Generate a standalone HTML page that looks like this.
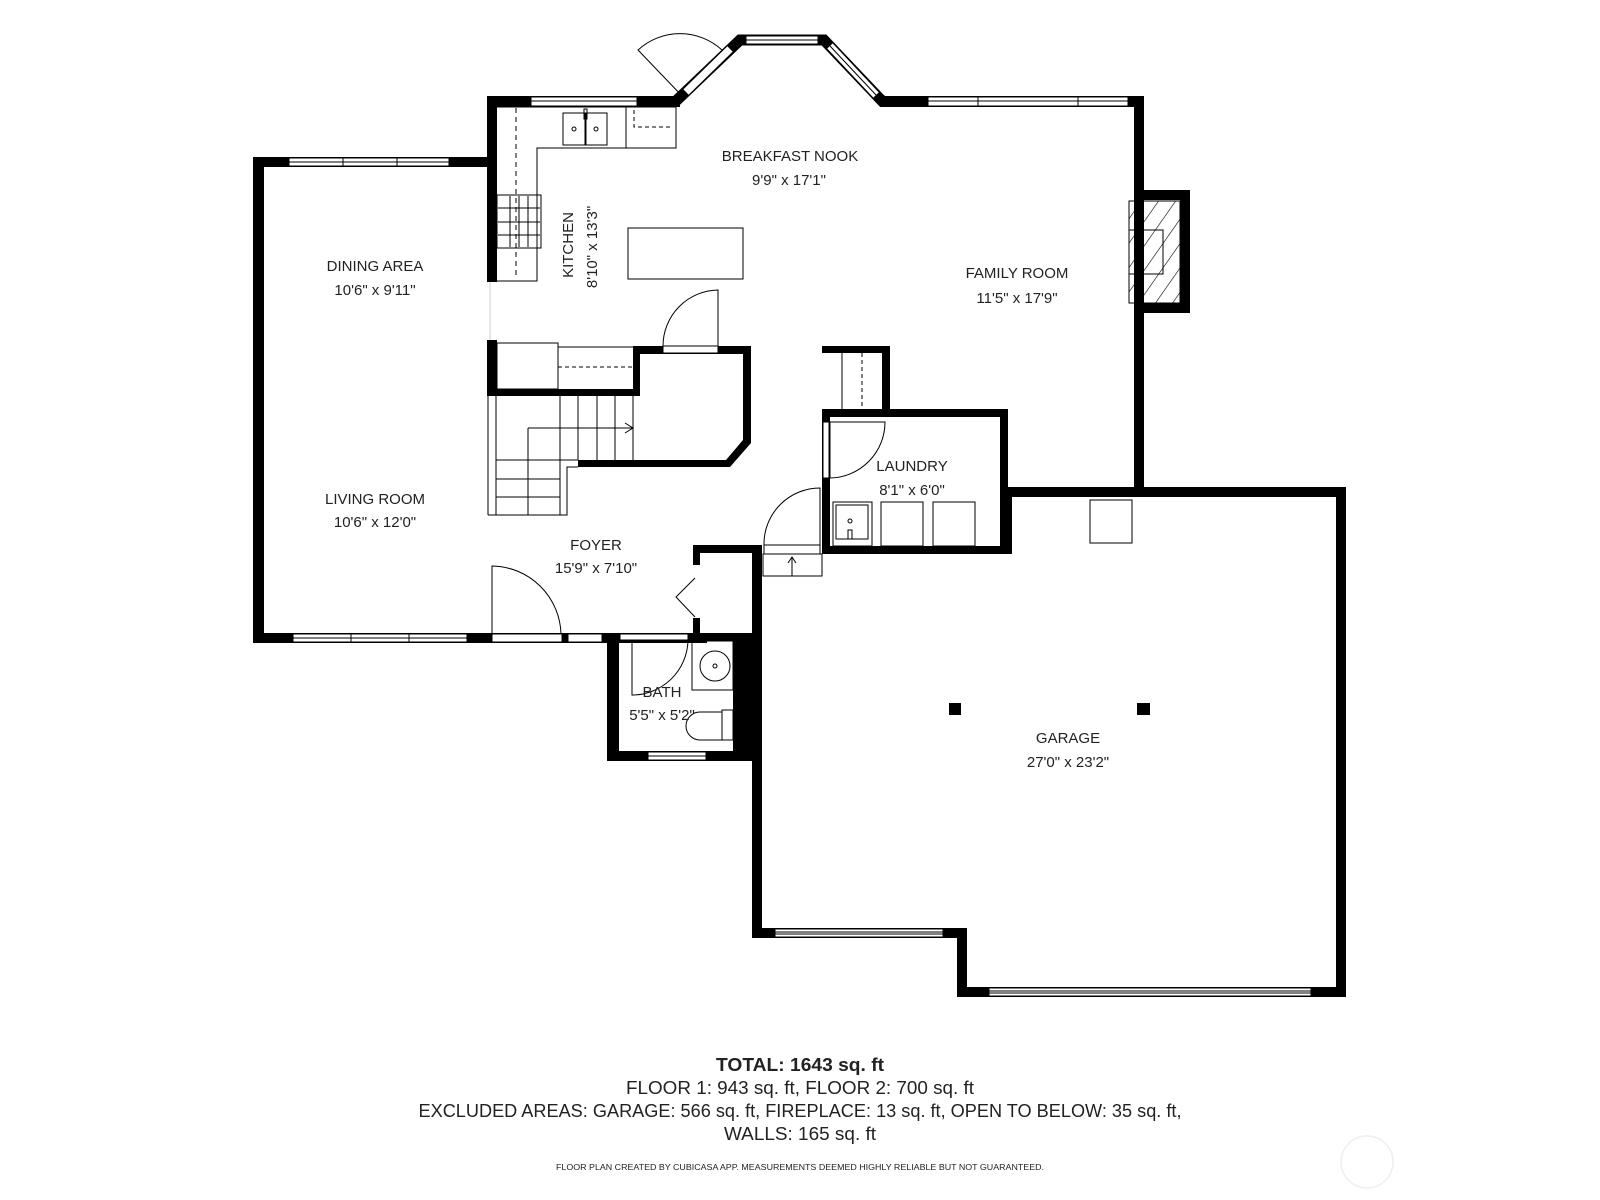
<!DOCTYPE html>
<html><head><meta charset="utf-8"><style>
html,body{margin:0;padding:0;background:#fff;width:1600px;height:1200px;overflow:hidden}
svg{display:block}
text{font-family:"Liberation Sans",sans-serif;fill:#222}
</style></head><body>
<svg width="1600" height="1200" viewBox="0 0 1600 1200" xmlns="http://www.w3.org/2000/svg">
<defs>
<pattern id="hatch" patternUnits="userSpaceOnUse" width="14" height="14" patternTransform="rotate(35)">
<line x1="0" y1="0" x2="0" y2="14" stroke="#000" stroke-width="1.2"/>
</pattern>
</defs>
<g fill="#000">
<rect x="253" y="157" width="11" height="486"/>
<rect x="253" y="157" width="244" height="10"/>
<rect x="253" y="633" width="454" height="10"/>
<rect x="487" y="96" width="10" height="186"/>
<rect x="487" y="340" width="10" height="55"/>
<rect x="487" y="96" width="193" height="11"/>
<rect x="880" y="96" width="264" height="11"/>
<rect x="1134" y="96" width="10" height="401"/>
<rect x="1134" y="190" width="56" height="10"/>
<rect x="1180" y="190" width="10" height="123"/>
<rect x="1134" y="303" width="56" height="10"/>
<rect x="633" y="346" width="118" height="8"/>
<rect x="633" y="346" width="7" height="50"/>
<rect x="487" y="389" width="153" height="7"/>
<polygon points="743,346 751,346 751,443 730,467 578,467 578,460 726,460 743,440"/>
<rect x="822" y="346" width="68" height="7"/>
<rect x="882" y="346" width="8" height="63"/>
<rect x="822" y="409" width="186" height="8"/>
<rect x="822" y="409" width="8" height="145"/>
<rect x="822" y="546" width="190" height="8"/>
<rect x="1000" y="409" width="8" height="145"/>
<rect x="1000" y="487" width="12" height="67"/>
<rect x="1000" y="487" width="346" height="10"/>
<rect x="1336" y="487" width="10" height="510"/>
<rect x="957" y="987" width="389" height="10"/>
<rect x="957" y="928" width="10" height="69"/>
<rect x="752" y="928" width="215" height="10"/>
<rect x="752" y="545" width="10" height="393"/>
<rect x="693" y="545" width="69" height="8"/>
<rect x="693" y="545" width="7" height="20"/>
<rect x="693" y="618" width="7" height="20"/>
<rect x="607" y="633" width="155" height="8"/>
<rect x="607" y="633" width="12" height="128"/>
<rect x="607" y="751" width="155" height="10"/>
<rect x="733" y="633" width="29" height="128"/>
</g>
<polyline points="676,101 740,40 824,40 882,101 885,101" fill="none" stroke="#000" stroke-width="11" stroke-linejoin="miter"/>
<g fill="#fff" stroke="#000" stroke-width="1">
<rect x="289" y="158" width="160" height="8"/>
<rect x="293" y="634" width="174" height="8"/>
<rect x="568" y="634" width="34" height="8"/>
<rect x="531" y="97" width="106" height="9"/>
<rect x="928" y="97" width="200" height="9"/>
<rect x="746" y="36" width="72" height="8"/>
<rect x="648" y="752" width="58" height="8"/>
<rect x="775" y="929" width="168" height="8"/>
<rect x="989" y="988" width="322" height="8"/>
<rect x="492" y="634" width="70" height="8"/>
<rect x="663" y="346" width="55" height="7"/>
<rect x="764" y="545" width="56" height="9"/>
<rect x="823" y="422" width="6" height="56"/>
<rect x="694" y="565" width="5" height="53" stroke="none"/>
<rect x="620" y="634" width="68" height="6"/>
</g>
<g fill="none" stroke="#000" stroke-width="1">
<line x1="289" y1="162" x2="449" y2="162"/><line x1="343" y1="158" x2="343" y2="166"/><line x1="397" y1="158" x2="397" y2="166"/>
<line x1="293" y1="638" x2="467" y2="638"/><line x1="351" y1="634" x2="351" y2="642"/><line x1="409" y1="634" x2="409" y2="642"/>
<line x1="531" y1="101" x2="637" y2="101"/>
<line x1="928" y1="101" x2="1128" y2="101"/><line x1="978" y1="97" x2="978" y2="106"/><line x1="1078" y1="97" x2="1078" y2="106"/>
<line x1="746" y1="40" x2="818" y2="40"/>
<line x1="648" y1="756" x2="706" y2="756"/>
<line x1="775" y1="932" x2="943" y2="932"/><line x1="775" y1="934" x2="943" y2="934"/>
<line x1="989" y1="991" x2="1311" y2="991"/><line x1="989" y1="993" x2="1311" y2="993"/>
<line x1="686" y1="92" x2="730" y2="49" stroke="#fff" stroke-width="8"/>
<line x1="683" y1="89" x2="727" y2="46"/><line x1="689" y1="95" x2="733" y2="52"/>
<line x1="830" y1="46" x2="876" y2="95" stroke="#fff" stroke-width="8"/>
<line x1="833" y1="43" x2="879" y2="92"/><line x1="827" y1="49" x2="873" y2="98"/><line x1="830" y1="46" x2="876" y2="95"/>
<path d="M684,98 L638,50 A62,62 0 0 1 722,50"/>
<path d="M492,634 L492,566 A70,70 0 0 1 561,634"/>
<path d="M718,346 L718,290 A56,56 0 0 0 663,346"/>
<path d="M830,478 L830,422 L885,422 A56,56 0 0 1 830,478"/>
<path d="M820,545 L820,488 A56,56 0 0 0 764,545"/>
<rect x="763" y="554" width="59" height="22"/>
<path d="M792,576 V558 M788,563 L792,557 L796,563"/>
<polyline points="695,578 676,597 695,617"/>
<path d="M632,641 L632,695 A56,56 0 0 0 688,641"/>
<rect x="692" y="641" width="41" height="49"/>
<circle cx="715" cy="666" r="15"/><circle cx="715" cy="666" r="2"/>
<rect x="722" y="710" width="11" height="30"/>
<path d="M722,712 H700 A14,14 0 0 0 700,740 H722"/>
<polyline points="497,107 676,107 676,148 537,148 537,281 497,281"/>
<line x1="626" y1="107" x2="626" y2="148"/>
<rect x="563" y="113" width="22" height="32"/><rect x="586" y="113" width="21" height="32"/>
<circle cx="574" cy="129" r="2"/><circle cx="596" cy="129" r="2"/>
<rect x="584" y="109" width="3" height="10"/>
<path d="M634,110 V127 H672" stroke-dasharray="4,3"/>
<line x1="516" y1="108" x2="516" y2="275" stroke-dasharray="5,4"/>
<rect x="497" y="195" width="44" height="53"/>
<path d="M498,208 H540 M498,222 H540 M498,235 H540 M510,196 V247 M519,196 V247 M528,196 V247"/>
<rect x="628" y="228" width="115" height="51"/>
<line x1="490" y1="282" x2="490" y2="340" stroke="#ccc"/>
<rect x="497" y="343" width="61" height="46"/>
<line x1="558" y1="347" x2="633" y2="347"/>
<line x1="558" y1="367" x2="633" y2="367" stroke-dasharray="4,3"/>
<line x1="488" y1="396" x2="488" y2="515"/><line x1="496" y1="396" x2="496" y2="515"/>
<line x1="560" y1="396" x2="560" y2="515"/><line x1="578" y1="396" x2="578" y2="460"/>
<line x1="597" y1="396" x2="597" y2="460"/><line x1="615" y1="396" x2="615" y2="460"/><line x1="633" y1="396" x2="633" y2="460"/>
<line x1="528" y1="428" x2="633" y2="428"/><path d="M625,423 L633,428 L625,433"/>
<line x1="528" y1="428" x2="528" y2="515"/>
<line x1="496" y1="460" x2="578" y2="460"/>
<line x1="496" y1="479" x2="560" y2="479"/><line x1="496" y1="497" x2="560" y2="497"/>
<polyline points="488,515 567,515 567,467 578,467"/>
<line x1="842" y1="353" x2="842" y2="409"/><line x1="862" y1="353" x2="862" y2="409" stroke-dasharray="4,3"/>
<rect x="833" y="502" width="39" height="44"/><rect x="836" y="505" width="32" height="34"/>
<circle cx="850" cy="521" r="2"/><rect x="848" y="530" width="4" height="9"/>
<rect x="881" y="502" width="42" height="44"/><rect x="933" y="502" width="42" height="44"/>
<rect x="1129" y="201" width="51" height="102" fill="url(#hatch)"/>
<rect x="1129" y="230" width="34" height="44"/>
<rect x="1090" y="500" width="42" height="43"/>
</g>
<rect x="949" y="703" width="12" height="12" fill="#000"/>
<rect x="1137" y="703" width="13" height="12" fill="#000"/>
<g font-size="15" text-anchor="middle">
<text x="790" y="161">BREAKFAST NOOK</text><text x="789" y="185">9'9" x 17'1"</text>
<text x="375" y="271">DINING AREA</text><text x="375" y="295">10'6" x 9'11"</text>
<text x="375" y="504">LIVING ROOM</text><text x="375" y="527">10'6" x 12'0"</text>
<text x="1017" y="278">FAMILY ROOM</text><text x="1017" y="303">11'5" x 17'9"</text>
<text x="596" y="550">FOYER</text><text x="596" y="573">15'9" x 7'10"</text>
<text x="912" y="471">LAUNDRY</text><text x="912" y="495">8'1" x 6'0"</text>
<text x="662" y="697">BATH</text><text x="662" y="720">5'5" x 5'2"</text>
<text x="1068" y="743">GARAGE</text><text x="1068" y="767">27'0" x 23'2"</text>
<text transform="translate(573,245) rotate(-90)">KITCHEN</text>
<text transform="translate(597,247) rotate(-90)">8'10" x 13'3"</text>
</g>
<g text-anchor="middle" font-size="18">
<text x="800" y="1071" font-weight="bold" textLength="168" lengthAdjust="spacingAndGlyphs">TOTAL: 1643 sq. ft</text>
<text x="800" y="1094" textLength="348" lengthAdjust="spacingAndGlyphs">FLOOR 1: 943 sq. ft, FLOOR 2: 700 sq. ft</text>
<text x="800" y="1117" textLength="763" lengthAdjust="spacingAndGlyphs">EXCLUDED AREAS: GARAGE: 566 sq. ft, FIREPLACE: 13 sq. ft, OPEN TO BELOW: 35 sq. ft,</text>
<text x="800" y="1140" textLength="152" lengthAdjust="spacingAndGlyphs">WALLS: 165 sq. ft</text>
<text x="800" y="1170" font-size="8" textLength="488" lengthAdjust="spacingAndGlyphs">FLOOR PLAN CREATED BY CUBICASA APP. MEASUREMENTS DEEMED HIGHLY RELIABLE BUT NOT GUARANTEED.</text>
</g>
<ellipse cx="1367" cy="1162" rx="26" ry="26" fill="none" stroke="#eee" stroke-width="1.5"/>
</svg>
</body></html>
